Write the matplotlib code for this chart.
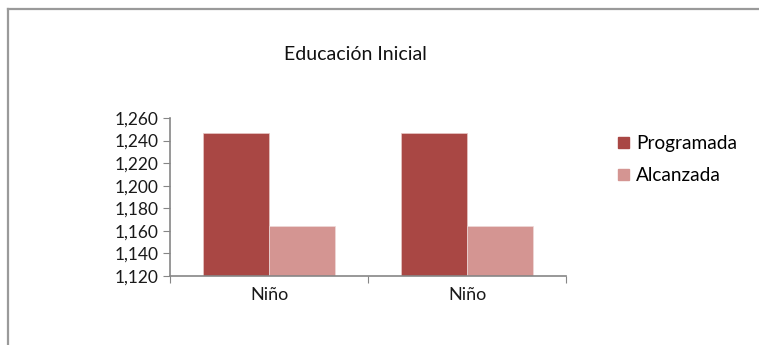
import matplotlib
matplotlib.use("Agg")
import matplotlib.pyplot as plt
from matplotlib.lines import Line2D
from matplotlib.patches import Patch
import numpy as np

categories = ["Niño", "Niño"]
series_names = ["Programada", "Alcanzada"]
programada = [1247, 1247]
alcanzada = [1164, 1164]
yticks = [1120, 1140, 1160, 1180, 1200, 1220, 1240, 1260]
ytick_labels = ["1,120", "1,140", "1,160", "1,180", "1,200", "1,220", "1,240", "1,260"]
title = "Educación Inicial"

colors = ["#A94744", "#D49592"]
font = "Lato"
W, H = 759, 345
fig = plt.figure(figsize=(W / 100, H / 100), dpi=100)

# outer frame
fig.add_artist(Line2D([7.5 / W, 7.5 / W], [0, 1 - 8.5 / H], color="#9a9a9a", lw=1.6, transform=fig.transFigure))
fig.add_artist(Line2D([7.5 / W, 1], [1 - 8.5 / H, 1 - 8.5 / H], color="#9a9a9a", lw=1.6, transform=fig.transFigure))

ax = fig.add_axes([170 / W, 1 - 276 / H, (566 - 170) / W, (276 - 118) / H])
x = np.arange(len(categories))
bw = 1 / 3
ax.bar(x - bw / 2, programada, width=bw, color=colors[0], edgecolor="#e8c8c6", linewidth=0.5, label=series_names[0])
ax.bar(x + bw / 2, alcanzada, width=bw, color=colors[1], edgecolor="#eedad9", linewidth=0.5, label=series_names[1])

ax.set_ylim(yticks[0], yticks[-1])
ax.set_xlim(-0.5, len(categories) - 0.5)
ax.set_yticks(yticks)
ax.set_yticklabels(ytick_labels, fontfamily=font, fontsize=12.5, color="#1a1a1a")
ax.set_xticks(np.arange(len(categories) + 1) - 0.5)
ax.set_xticklabels([])
ax.set_xticks(x, minor=True)
ax.set_xticklabels(categories, minor=True, fontfamily=font, fontsize=13, color="#1a1a1a")
ax.tick_params(axis="x", which="minor", length=0, pad=8)
ax.tick_params(axis="x", which="major", length=5, color="#868686", direction="out")
ax.tick_params(axis="y", length=5, color="#868686", direction="out", pad=3)
for s in ["top", "right"]:
    ax.spines[s].set_visible(False)
for s in ["left", "bottom"]:
    ax.spines[s].set_color("#868686")
    ax.spines[s].set_linewidth(1.2)

fig.text(355 / W, 1 - 55 / H, title, ha="center", va="center", fontfamily=font, fontsize=14, color="#111111")

handles = [Patch(color=colors[0]), Patch(color=colors[1])]
fig.legend(handles, series_names, loc="upper left", bbox_to_anchor=(601 / W, 1 - 118 / H),
           frameon=False, prop={"family": font, "size": 13.7}, handlelength=0.55, handleheight=0.55,
           handletextpad=0.4, labelspacing=0.8, borderpad=0.4)

fig.savefig("out.png", dpi=100)
